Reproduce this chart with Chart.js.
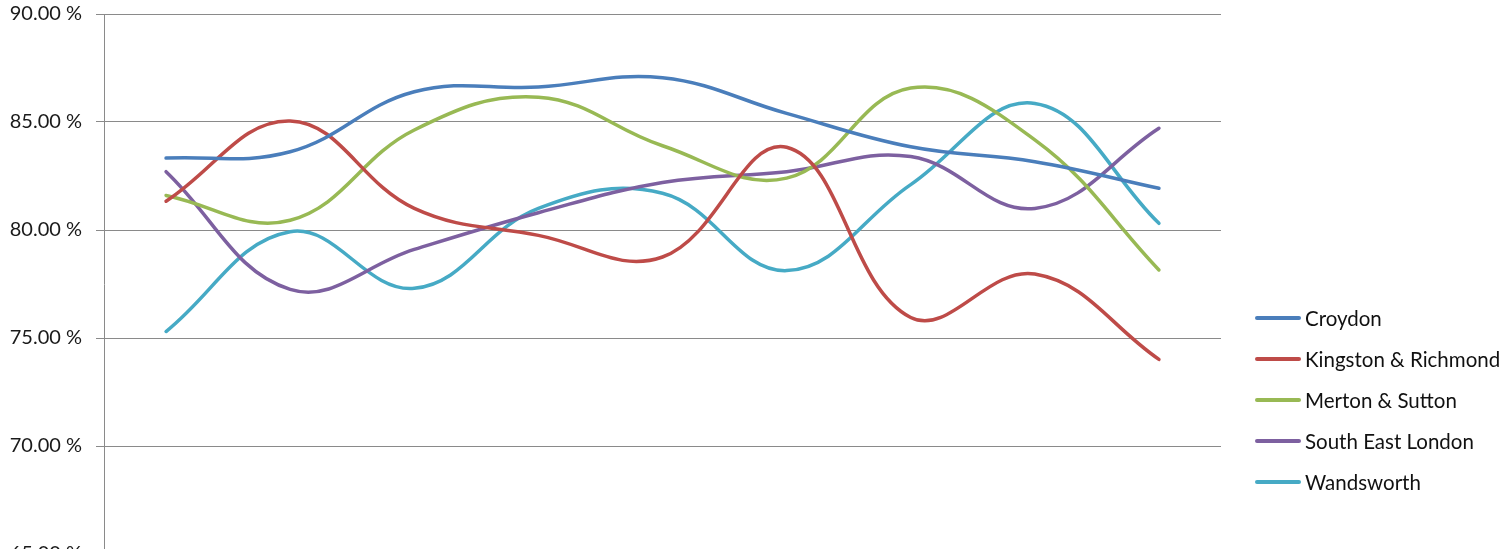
<!DOCTYPE html>
<html>
<head>
<meta charset="utf-8">
<script src="https://cdn.jsdelivr.net/npm/chart.js@4/dist/chart.umd.min.js"></script>
<style>
  html, body { margin: 0; padding: 0; background: #fff; overflow: hidden; }
  #wrap { position: relative; width: 1509px; height: 549px; overflow: hidden; }
  #chart { position: absolute; left: 0; top: 0; }
  #legend { position: absolute; left: 1255px; top: 297px; font-family: Lato, "Open Sans", sans-serif; font-size: 20.5px; color: #111; }
  .row { height: 41px; display: flex; align-items: center; }
  .swatch { width: 46px; height: 4px; border-radius: 2px; margin-right: 4px; }
</style>
</head>
<body>
<div id="wrap">
  <canvas id="chart" width="1509" height="580"></canvas>
  <div id="legend"></div>
</div>
<script>
// periods along the x axis (labels sit below the visible area)
const periods = ['1', '2', '3', '4', '5', '6', '7', '8', '9']

const seriesNames = ['Croydon', 'Kingston & Richmond', 'Merton & Sutton', 'South East London', 'Wandsworth']
const seriesColors = ['#4A7EBB', '#BE4B48', '#98B954', '#7D60A0', '#46AAC5']

const croydon = [83.33, 83.62, 86.40, 86.62, 87.05, 85.40, 83.85, 83.16, 81.93]
const kingstonRichmond = [81.33, 85.05, 81.00, 79.75, 78.75, 83.83, 75.95, 77.96, 74.01]
const mertonSutton = [81.60, 80.45, 84.63, 86.15, 83.90, 82.40, 86.57, 84.17, 78.15]
const southEastLondon = [82.70, 77.25, 79.10, 80.80, 82.20, 82.70, 83.40, 81.00, 84.71]
const wandsworth = [75.30, 79.92, 77.30, 81.00, 81.70, 78.12, 82.10, 85.86, 80.31]

const yTicks = [65, 70, 75, 80, 85, 90]

const seriesValues = [croydon, kingstonRichmond, mertonSutton, southEastLondon, wandsworth]

const datasets = seriesNames.map((name, i) => ({
  label: name,
  data: seriesValues[i],
  borderColor: seriesColors[i],
  backgroundColor: seriesColors[i],
  borderWidth: 3.5,
  pointRadius: 0,
  tension: 0.4,
  borderCapStyle: 'round',
  fill: false
}))

const chart = new Chart(document.querySelector('#chart'), {
  type: 'line',
  data: { labels: periods, datasets: datasets },
  options: {
    responsive: false,
    animation: false,
    layout: { padding: { left: 0, right: 288, top: 14, bottom: 26 } },
    plugins: { legend: { display: false }, tooltip: { enabled: false } },
    scales: {
      x: { display: false, offset: true },
      y: {
        min: yTicks[0],
        max: yTicks[yTicks.length - 1],
        afterFit: (scale) => {
          scale.width = 104
          scale.paddingTop = 0
          scale.paddingBottom = 0
        },
        afterBuildTicks: (scale) => { scale.ticks = yTicks.map(v => ({ value: v })) },
        grid: { color: '#8a8a8a', lineWidth: 1, tickLength: 8, drawTicks: true },
        border: { color: '#8a8a8a', width: 1 },
        ticks: {
          padding: 14,
          color: '#1a1a1a',
          font: { family: 'Lato', size: 20 },
          callback: (v) => v.toFixed(2) + ' %'
        }
      }
    }
  }
})

// legend built from the series arrays
const legend = document.querySelector('#legend')
seriesNames.forEach((name, i) => {
  const row = document.createElement('div')
  row.className = 'row'
  const sw = document.createElement('div')
  sw.className = 'swatch'
  sw.style.background = seriesColors[i]
  const txt = document.createElement('span')
  txt.textContent = name
  row.appendChild(sw)
  row.appendChild(txt)
  legend.appendChild(row)
})
</script>
</body>
</html>
